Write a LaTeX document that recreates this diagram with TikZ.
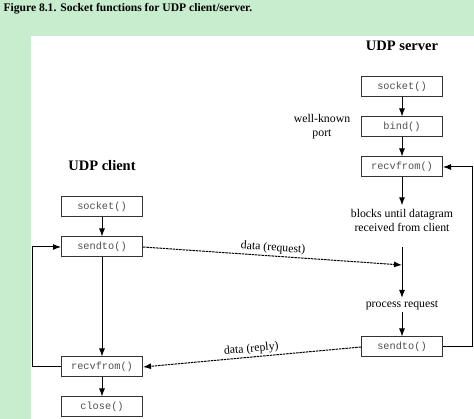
\documentclass[tikz,border=0pt]{standalone}
\usepackage{fontspec}
\usetikzlibrary{arrows.meta}
\setmainfont{Liberation Serif}
\setmonofont{Liberation Mono}
\definecolor{pagegreen}{RGB}{199,236,206}
\definecolor{fnGray}{RGB}{80,80,80}
\tikzstyle{block} = [align=center, draw=black!80, fill=white, rectangle, line width=1pt, minimum height=20pt, minimum width=81pt, inner sep=0pt, font=\ttfamily\fontsize{10.3}{11}\selectfont, text=fnGray]
\tikzstyle{note} = [align=center, inner sep=2pt, font=\fontsize{11.8}{14}\selectfont]
\tikzstyle{heading} = [font=\bfseries\fontsize{14.5}{16}\selectfont]
\tikzstyle{datagram} = [->, dash pattern=on 2.5pt off 0.8pt]
\begin{document}
\begin{tikzpicture}[x=1pt,y=-1pt,>={Latex[length=8pt,width=6pt]},line width=1pt]
            %
            % Page background and the white figure panel
            \useasboundingbox (0,0) rectangle (474,419);
            \fill [pagegreen] (0,0) rectangle (474,419);
            \fill [white] (31,36) rectangle (474,419);
            \node [anchor=base west, font=\bfseries\fontsize{11.6}{13}\selectfont, inner sep=0pt] (caption) at (3,12) {Figure 8.1. Socket functions for UDP client/server.};
            %
            % We start by placing the server blocks
            \node [heading] (servertitle) at (402,46) {UDP server};
            \node [block] (ssocket) at (402,87) {socket()};
            \node [block] (sbind) at (402,127) {bind()};
            \node [block] (srecv) at (402,167) {recvfrom()};
            \node [note] (port) at (322,127) {well-known\\port};
            \node [note] (sblocks) at (402,220) {blocks until datagram\\received from client};
            \coordinate (sreqtop) at (402,247);
            \coordinate (sreq) at (402,265);
            \node [note] (sproc) at (402,305) {process request};
            \node [block] (ssend) at (402,347) {sendto()};
            %
            % Then the client blocks
            \node [heading] (clienttitle) at (102,166) {UDP client};
            \node [block] (csocket) at (102,207) {socket()};
            \node [block] (csend) at (102,247) {sendto()};
            \node [block] (crecv) at (102,367) {recvfrom()};
            \node [block] (cclose) at (102,407) {close()};
            %
            % Once the nodes are placed, connecting them is easy.
            \draw [->] (ssocket) -- (sbind);
            \draw [->] (sbind) -- (srecv);
            \draw [->, shorten >=1pt] (srecv) -- (sblocks);
            \draw [->] (sreqtop) -- (sproc);
            \draw [->] (sproc) -- (ssend);
            \draw [->] (ssend.east) -- ++(29,0) |- (srecv.east);
            \draw [->] (csocket) -- (csend);
            \draw [->] (csend) -- (crecv);
            \draw [->] (crecv) -- (cclose);
            \draw [->] (crecv.west) -- ++(-29,0) |- (csend.west);
            %
            % The datagrams between client and server
            \draw [datagram] (csend.east) -- (sreq) node[pos=0.5, above, sloped, note] {data (request)};
            \draw [datagram] (ssend.west) -- (crecv.east) node[pos=0.5, above, sloped, note] {data (reply)};
            %
        \end{tikzpicture}
\end{document}
